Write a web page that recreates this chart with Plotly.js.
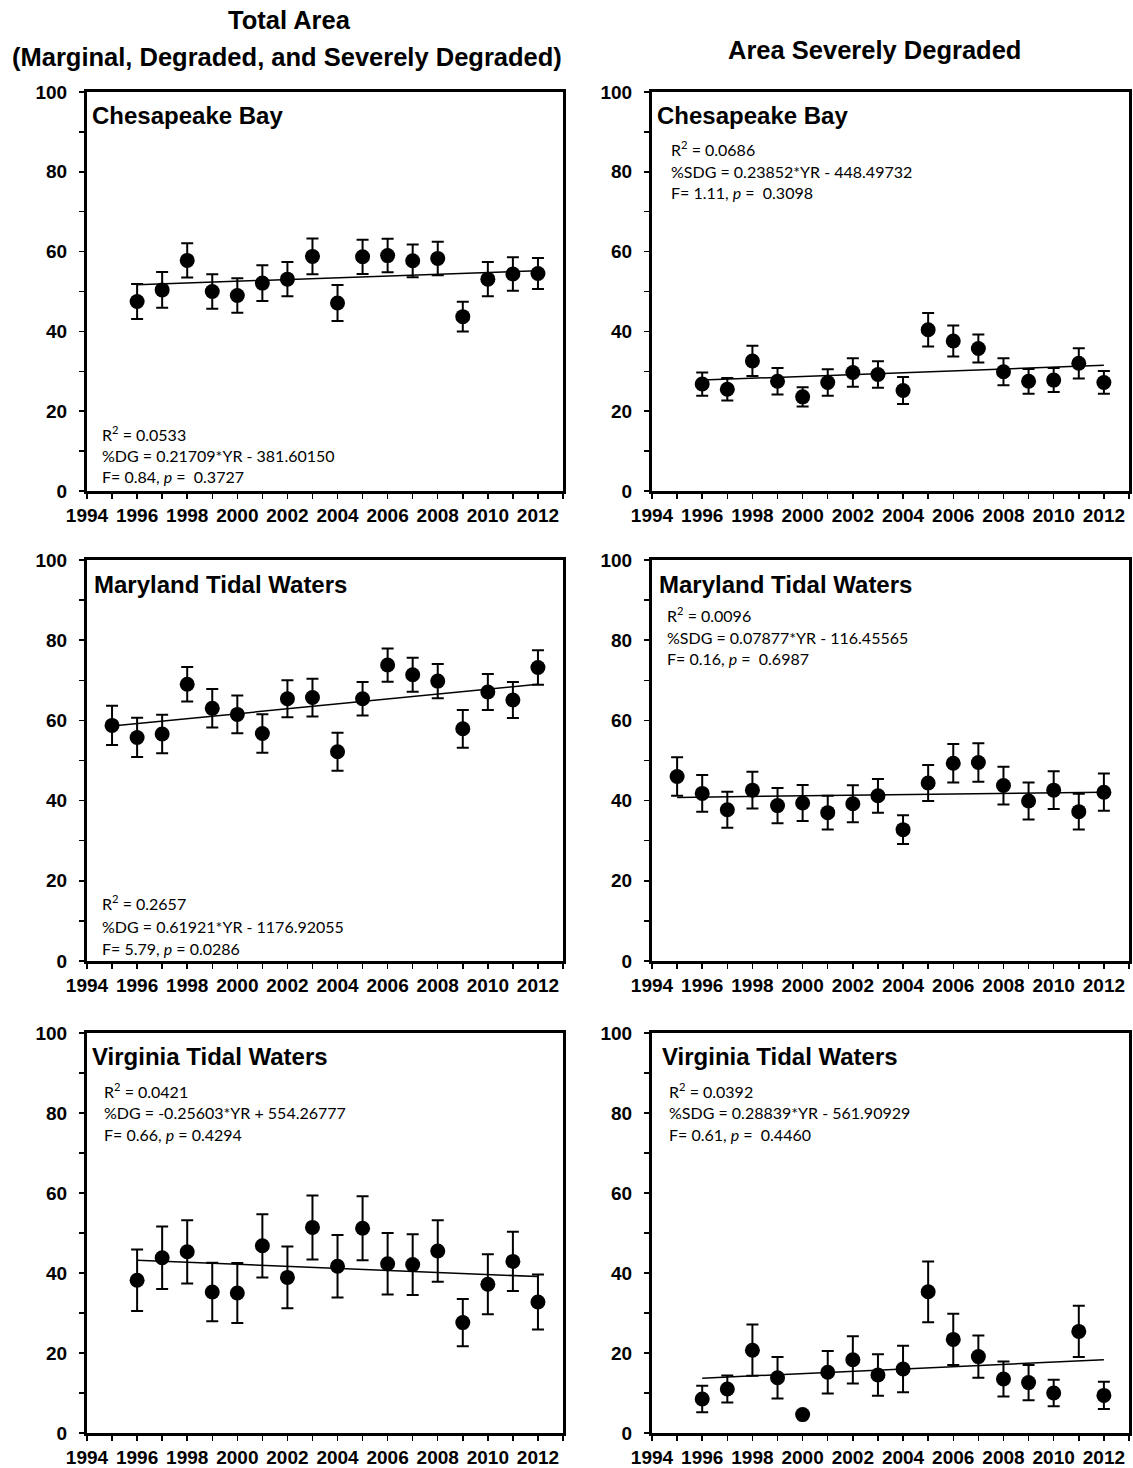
<!DOCTYPE html>
<html>
<head>
<meta charset="utf-8">
<script src="https://cdn.plot.ly/plotly-3.0.1.min.js"></script>
<style>html,body{margin:0;padding:0;background:#fff;}#chart{width:1133px;height:1468px;}</style>
</head>
<body>
<div id="chart"></div>
<script>
// ---------- DATA ----------
const years1995 = [1995,1996,1997,1998,1999,2000,2001,2002,2003,2004,2005,2006,2007,2008,2009,2010,2011,2012];
const years1996 = [1996,1997,1998,1999,2000,2001,2002,2003,2004,2005,2006,2007,2008,2009,2010,2011,2012];

// Chesapeake Bay - total area (%DG)
const cbTotal    = [47.5,50.4,57.8,50.0,49.0,52.1,53.1,58.8,47.1,58.7,59.0,57.7,58.3,43.7,53.1,54.4,54.5];
const cbTotalErr = [4.4,4.5,4.3,4.3,4.3,4.5,4.3,4.5,4.5,4.3,4.2,4.1,4.2,3.7,4.3,4.2,3.9];
const cbTotalTrendX = [1996, 2012];
const cbTotalTrendY = [51.7, 55.2];

// Maryland tidal waters - total area
const mdTotal    = [58.75,55.75,56.6,69.0,63.0,61.5,56.75,65.4,65.7,52.2,65.4,73.8,71.4,69.8,57.9,67.1,65.1,73.2];
const mdTotalErr = [4.9,4.9,4.8,4.3,4.8,4.7,4.8,4.6,4.7,4.75,4.2,4.15,4.25,4.25,4.7,4.5,4.5,4.3];
const mdTotalTrendX = [1995, 2012];
const mdTotalTrendY = [58.6, 69.0];

// Virginia tidal waters - total area
const vaTotal    = [38.2,43.8,45.3,35.25,35.0,46.8,38.9,51.4,41.7,51.2,42.3,42.1,45.5,27.6,37.2,42.9,32.75];
const vaTotalErr = [7.7,7.8,7.9,7.3,7.5,7.9,7.7,8.0,7.8,8.0,7.7,7.6,7.7,5.9,7.5,7.4,6.9];
const vaTotalTrendX = [1996, 2012];
const vaTotalTrendY = [43.2, 39.1];

// Chesapeake Bay - severely degraded (%SDG)
const cbSdg    = [26.8,25.5,32.6,27.5,23.6,27.2,29.7,29.2,25.2,40.4,37.6,35.7,29.9,27.5,27.8,32.0,27.2];
const cbSdgErr = [2.9,2.8,3.8,3.3,2.4,3.3,3.6,3.3,3.4,4.2,3.9,3.5,3.4,3.1,3.0,3.8,2.85];
const cbSdgTrendX = [1996, 2012];
const cbSdgTrendY = [27.8, 31.5];

// Maryland tidal waters - severely degraded
const mdSdg    = [46.0,41.8,37.7,42.6,38.75,39.4,37.0,39.2,41.2,32.75,44.4,49.3,49.5,43.75,39.9,42.6,37.25,42.1];
const mdSdgErr = [4.8,4.6,4.5,4.6,4.4,4.5,4.2,4.6,4.2,3.6,4.5,4.8,4.8,4.7,4.6,4.7,4.45,4.65];
const mdSdgTrendX = [1995, 2012];
const mdSdgTrendY = [40.8, 42.1];

// Virginia tidal waters - severely degraded
const vaSdg    = [8.5,11.0,20.7,13.8,4.6,15.2,18.3,14.5,16.0,35.3,23.4,19.1,13.5,12.6,10.0,25.4,9.4];
const vaSdgErr = [3.3,3.4,6.4,5.2,0.5,5.3,5.9,5.2,5.8,7.6,6.4,5.3,4.4,4.4,3.3,6.4,3.4];
const vaSdgTrendX = [1996, 2012];
const vaSdgTrendY = [13.7, 18.3];

const colHeaders = ['Total Area', '(Marginal, Degraded, and Severely Degraded)', 'Area Severely Degraded'];
const regionNames = ['Chesapeake Bay', 'Maryland Tidal Waters', 'Virginia Tidal Waters'];
const statsText = [
  ['R<sup>2</sup> = 0.0533', '%DG = 0.21709*YR - 381.60150', 'F= 0.84, <i>p</i> =  0.3727'],
  ['R<sup>2</sup> = 0.0686', '%SDG = 0.23852*YR - 448.49732', 'F= 1.11, <i>p</i> =  0.3098'],
  ['R<sup>2</sup> = 0.2657', '%DG = 0.61921*YR - 1176.92055', 'F= 5.79, <i>p</i> = 0.0286'],
  ['R<sup>2</sup> = 0.0096', '%SDG = 0.07877*YR - 116.45565', 'F= 0.16, <i>p</i> =  0.6987'],
  ['R<sup>2</sup> = 0.0421', '%DG = -0.25603*YR + 554.26777', 'F= 0.66, <i>p</i> = 0.4294'],
  ['R<sup>2</sup> = 0.0392', '%SDG = 0.28839*YR - 561.90929', 'F= 0.61, <i>p</i> =  0.4460']
];

// ---------- LAYOUT HELPERS ----------
const W = 1133, H = 1468;
const px = x => x / W;
const py = y => 1 - y / H;

const panels = [
  {x: years1996, y: cbTotal, e: cbTotalErr, tx: cbTotalTrendX, ty: cbTotalTrendY},
  {x: years1996, y: cbSdg,   e: cbSdgErr,   tx: cbSdgTrendX,   ty: cbSdgTrendY},
  {x: years1995, y: mdTotal, e: mdTotalErr, tx: mdTotalTrendX, ty: mdTotalTrendY},
  {x: years1995, y: mdSdg,   e: mdSdgErr,   tx: mdSdgTrendX,   ty: mdSdgTrendY},
  {x: years1996, y: vaTotal, e: vaTotalErr, tx: vaTotalTrendX, ty: vaTotalTrendY},
  {x: years1996, y: vaSdg,   e: vaSdgErr,   tx: vaSdgTrendX,   ty: vaSdgTrendY}
];

const colDom = [[px(87), px(563)], [px(652), px(1129)]];
const rowDom = [[py(491), py(92)], [py(961), py(560)], [py(1433), py(1033)]];

const tickFont = {family: 'Liberation Sans, Arial, sans-serif', size: 19, color: '#000', weight: 'bold'};

const data = [];
const layout = {
  width: W, height: H,
  margin: {l: 0, r: 0, t: 0, b: 0},
  paper_bgcolor: '#fff', plot_bgcolor: '#fff',
  showlegend: false,
  annotations: []
};

panels.forEach((p, i) => {
  const n = i + 1;
  const xa = 'x' + (n === 1 ? '' : n), ya = 'y' + (n === 1 ? '' : n);
  const col = i % 2, row = Math.floor(i / 2);
  data.push({
    type: 'scatter', mode: 'lines', x: p.tx, y: p.ty, xaxis: xa, yaxis: ya,
    line: {color: '#000', width: 1.5}, hoverinfo: 'skip'
  });
  data.push({
    type: 'scatter', mode: 'markers', x: p.x, y: p.y, xaxis: xa, yaxis: ya,
    marker: {color: '#000', size: 15},
    error_y: {type: 'data', array: p.e, visible: true, color: '#000', thickness: 2, width: 6}
  });
  const axCommon = {
    showline: true, linewidth: 3, linecolor: '#000', mirror: true,
    showgrid: false, zeroline: false,
    ticks: 'outside', ticklen: 5, tickwidth: 1.5, tickcolor: '#000',
    tickfont: tickFont, fixedrange: true
  };
  layout['xaxis' + (n === 1 ? '' : n)] = Object.assign({}, axCommon, {
    domain: colDom[col], anchor: ya, range: [1994, 2013], tick0: 1994, dtick: 2,
    ticklabelstandoff: 0,
    minor: {dtick: 1, tick0: 1994, ticks: 'outside', ticklen: 5, tickwidth: 1.5, tickcolor: '#000', showgrid: false}
  });
  layout['yaxis' + (n === 1 ? '' : n)] = Object.assign({}, axCommon, {
    domain: rowDom[row], anchor: xa, range: [0, 100], tick0: 0, dtick: 20,
    ticklabelstandoff: 8,
    minor: {dtick: 10, tick0: 0, ticks: 'outside', ticklen: 5, tickwidth: 1.5, tickcolor: '#000', showgrid: false}
  });
});

// column headers
const headFont = {family: 'Liberation Sans, Arial, sans-serif', size: 25.5, color: '#000', weight: 'bold'};
layout.annotations.push({xref: 'paper', yref: 'paper', x: px(289), y: py(20), text: '<b>' + colHeaders[0] + '</b>', showarrow: false, xanchor: 'center', yanchor: 'middle', font: headFont});
layout.annotations.push({xref: 'paper', yref: 'paper', x: px(287), y: py(57), text: '<b>' + colHeaders[1] + '</b>', showarrow: false, xanchor: 'center', yanchor: 'middle', font: headFont});
layout.annotations.push({xref: 'paper', yref: 'paper', x: px(874), y: py(50), text: '<b>' + colHeaders[2] + '</b>', showarrow: false, xanchor: 'center', yanchor: 'middle', font: headFont});

// panel titles
const titlePos = [[90,115],[655,115],[92,584],[657,584],[90,1056],[660,1056]];
const titleFont = {family: 'Liberation Sans, Arial, sans-serif', size: 24, color: '#000', weight: 'bold'};
titlePos.forEach((t, i) => {
  layout.annotations.push({xref: 'paper', yref: 'paper', x: px(t[0]), y: py(t[1]),
    text: '<b>' + regionNames[Math.floor(i / 2)] + '</b>', showarrow: false,
    xanchor: 'left', yanchor: 'middle', font: titleFont});
});

// statistics text
const statPos = [
  [100, [433, 455, 477]],
  [669, [148, 171, 193]],
  [100, [903, 926, 948]],
  [665, [614, 637, 659]],
  [102, [1090, 1112, 1134]],
  [667, [1090, 1112, 1134]]
];
const statFont = {family: 'Lato, Carlito, Calibri, sans-serif', size: 16, color: '#000'};
statPos.forEach((s, i) => {
  statsText[i].forEach((txt, j) => {
    layout.annotations.push({xref: 'paper', yref: 'paper', x: px(s[0]), y: py(s[1][j]),
      text: txt, showarrow: false, xanchor: 'left', yanchor: 'middle', font: statFont});
  });
});

Plotly.newPlot('chart', data, layout, {displayModeBar: false, staticPlot: true});
</script>
</body>
</html>
